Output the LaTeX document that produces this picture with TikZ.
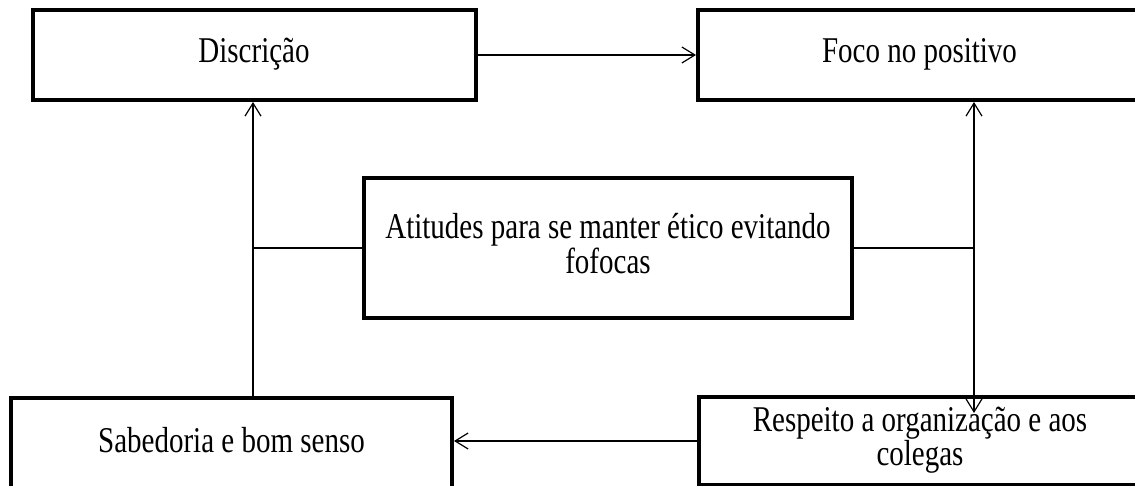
\documentclass[tikz,border=0pt]{standalone}
\usepackage{fontspec}
\setmainfont{Liberation Serif}
\usepackage{graphicx}
\usetikzlibrary{arrows.meta}

% taller text, as in the reference
\newcommand{\talltext}[1]{\scalebox{1}[1.25]{\begin{tabular}{@{}c@{}}#1\end{tabular}}}

\tikzset{
  box/.style={draw, line width=2pt, inner sep=0pt, minimum width=221.5pt,
    minimum height=45pt, font=\fontsize{14.5}{12.2}\selectfont},
  conn/.style={line width=0.6pt, -{Straight Barb[length=6.5pt,width=8pt]}},
  link/.style={line width=0.6pt}
}

\begin{document}
\begin{tikzpicture}[x=0.5pt,y=-0.5pt]
    \useasboundingbox (0,0) rectangle (1135,486);
    \clip (0,0) rectangle (1135,486);

    % Drawing the boxes
    \node[box] (disc) at (254,55) {\talltext{Discrição}};
    \node[box] (foco) at (919.5,55) {\talltext{Foco no positivo}};
    \node[box, minimum width=244pt, minimum height=70pt] (atit) at (608,248)
        {\talltext{Atitudes para se manter ético evitando\\fofocas}};
    \node[box, minimum width=220.5pt, minimum height=46pt] (sab) at (231.5,444)
        {\talltext{Sabedoria e bom senso}};
    \node[box, minimum width=221pt, minimum height=44pt] (resp) at (920,441)
        {\talltext{Respeito a organização e aos\\colegas}};

    % Junctions of the connectors
    \coordinate (lj) at (253,248);
    \coordinate (rj) at (974,248);
    \coordinate (rtip) at (974,413);

    % Drawing the connectors
    \draw[conn] (disc.east) -- (foco.west);
    \draw[link] (atit.west) -- (lj);
    \draw[conn] (sab.north -| lj) -- (disc.south -| lj);
    \draw[link] (atit.east) -- (rj);
    \draw[conn] (rj) -- (foco.south -| rj);
    \draw[conn] (rj) -- (rtip);
    \draw[conn] (resp.west) -- (resp.west -| sab.east);
\end{tikzpicture}
\end{document}
